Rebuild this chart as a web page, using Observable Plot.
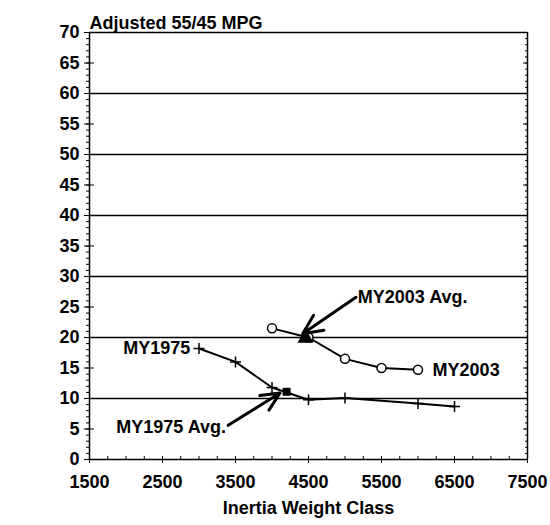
<!DOCTYPE html>
<html><head><meta charset="utf-8">
<script src="https://cdn.jsdelivr.net/npm/d3@7"></script>
<script src="https://cdn.jsdelivr.net/npm/@observablehq/plot@0.6"></script>
<style>
body{margin:0;background:#fff}
#chart svg{font-family:"Liberation Sans",Arial,sans-serif;font-weight:bold}
</style>
</head><body><div id="chart"></div>
<script>
const title = "Adjusted 55/45 MPG";
const xLabel = "Inertia Weight Class";
const xTicks = [1500, 2500, 3500, 4500, 5500, 6500, 7500];
const yTicks = [0, 5, 10, 15, 20, 25, 30, 35, 40, 45, 50, 55, 60, 65, 70];
const gridLines = [10, 20, 30, 40, 50, 60, 70];

const my2003Weight = [4000, 4500, 5000, 5500, 6000];
const my2003Mpg = [21.5, 20.0, 16.5, 15.0, 14.7];
const my1975Weight = [3000, 3500, 4000, 4500, 5000, 6000, 6500];
const my1975Mpg = [18.2, 16.0, 11.8, 9.8, 10.1, 9.2, 8.7];

const avgNames = ["MY1975 Avg.", "MY2003 Avg."];
const avgWeight = [4200, 4460];
const avgMpg = [11.1, 19.9];

const seriesLabels = ["MY1975", "MY2003"];
const seriesLabelWeight = [2880, 6200];
const seriesLabelMpg = [18.2, 14.7];

// arrow annotations: from label to average point
const arrowFromWeight = [3400, 5150];
const arrowFromMpg = [5.6, 26.6];
const arrowToWeight = [4110, 4420];
const arrowToMpg = [10.9, 20.6];
const avgLabelWeight = [3370, 5175];
const avgLabelMpg = [5.3, 26.6];

const s2003 = my2003Weight.map((w, i) => ({w, m: my2003Mpg[i]}));
const s1975 = my1975Weight.map((w, i) => ({w, m: my1975Mpg[i]}));
const arrows = avgNames.map((n, i) => ({n, x1: arrowFromWeight[i], y1: arrowFromMpg[i], x2: arrowToWeight[i], y2: arrowToMpg[i], lx: avgLabelWeight[i], ly: avgLabelMpg[i]}));
const sLabels = seriesLabels.map((t, i) => ({t, x: seriesLabelWeight[i], y: seriesLabelMpg[i]}));

const plusSym = {draw(ctx, size) {const r = Math.sqrt(size / Math.PI); ctx.moveTo(-r, 0); ctx.lineTo(r, 0); ctx.moveTo(0, -r); ctx.lineTo(0, r);}};

const minorY = d3.range(0, 71, 1);
const minorX = d3.range(1500, 7501, 250);
const fs = 18;

const chart = Plot.plot({
  width: 550, height: 525,
  marginLeft: 89, marginRight: 23, marginTop: 32, marginBottom: 66,
  x: {domain: [1500, 7500]},
  y: {domain: [0, 70]},
  marks: [
    Plot.ruleY(gridLines, {stroke: "#000", strokeWidth: 1.3}),
    Plot.ruleY([0], {stroke: "#000", strokeWidth: 1.5}),
    Plot.ruleX([1500, 7500], {stroke: "#000", strokeWidth: 1.5}),
    Plot.axisX({ticks: xTicks, tickSize: 4, tickPadding: 12, fontSize: fs, fontWeight: "bold", label: null, tickFormat: d => String(d)}),
    Plot.axisX({ticks: minorX, tickSize: -3, text: null, label: null}),
    Plot.axisY({ticks: yTicks, tickSize: 0, tickPadding: 10, fontSize: fs, fontWeight: "bold", label: null}),
    Plot.axisY({ticks: yTicks, tickSize: 5, text: null, label: null}),
    Plot.axisY({ticks: yTicks, tickSize: -5, text: null, label: null}),
    Plot.axisY({ticks: minorY, tickSize: 3, text: null, label: null}),
    Plot.axisY({anchor: "right", ticks: minorY, tickSize: -3, text: null, label: null}),
    Plot.axisY({anchor: "right", ticks: yTicks, tickSize: -5, text: null, label: null}),
    Plot.line(s1975, {x: "w", y: "m", stroke: "#000", strokeWidth: 2}),
    Plot.line(s2003, {x: "w", y: "m", stroke: "#000", strokeWidth: 2}),
    Plot.dot(s1975, {x: "w", y: "m", symbol: plusSym, r: 5.5, stroke: "#000", strokeWidth: 1.5, fill: "none"}),
    Plot.dot(s2003, {x: "w", y: "m", symbol: "circle", r: 4.5, stroke: "#000", strokeWidth: 1.5, fill: "#fff"}),
    Plot.dot([0], {x: () => avgWeight[0], y: () => avgMpg[0], symbol: "square", r: 4.5, fill: "#000"}),
    Plot.dot([0], {x: () => avgWeight[1], y: () => avgMpg[1], symbol: "triangle", r: 6, fill: "#000"}),
    Plot.arrow(arrows, {x1: "x1", y1: "y1", x2: "x2", y2: "y2", stroke: "#000", strokeWidth: 3, headLength: 14, headAngle: 50}),
    Plot.text(arrows.slice(0, 1), {x: "lx", y: "ly", text: "n", textAnchor: "end", fontSize: fs, fontWeight: "bold"}),
    Plot.text(arrows.slice(1), {x: "lx", y: "ly", text: "n", textAnchor: "start", fontSize: fs, fontWeight: "bold"}),
    Plot.text(sLabels.slice(0, 1), {x: "x", y: "y", text: "t", textAnchor: "end", fontSize: fs, fontWeight: "bold"}),
    Plot.text(sLabels.slice(1), {x: "x", y: "y", text: "t", textAnchor: "start", fontSize: fs, fontWeight: "bold"}),
    Plot.text([title], {frameAnchor: "top-left", dy: -16, textAnchor: "start", fontSize: fs, fontWeight: "bold"}),
    Plot.text([xLabel], {frameAnchor: "bottom", dy: 54, fontSize: fs, fontWeight: "bold"})
  ]
});
document.getElementById("chart").append(chart);
</script>
</body></html>
